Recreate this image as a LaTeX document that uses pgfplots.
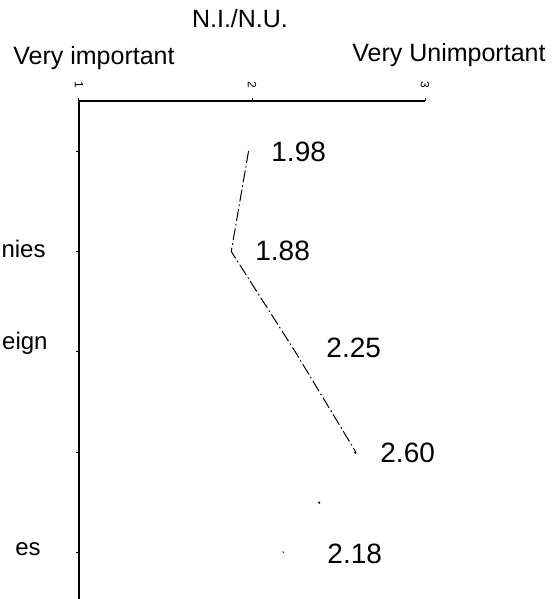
\documentclass[border=0pt]{standalone}
\usepackage{fontspec}
\setmainfont{Liberation Sans}
\usepackage{pgfplots}
\pgfplotsset{compat=1.18}
\begin{document}
\begin{tikzpicture}
\begin{axis}[
  scale only axis, width=173pt, height=249pt,
  xmin=1, xmax=3, ymin=0.535, ymax=5.5,
  clip=false,
  axis x line=top, axis y line=left,
  axis line style={-, line width=0.6pt, black},
  /pgf/number format/assume math mode=true,
  xtick={1,2,3},
  xticklabels={1,2,3},
  xtick align=outside, ytick align=outside,
  major tick length=1.5pt,
  tick style={line width=0.5pt, black},
  xticklabel style={rotate=-90, anchor=east, inner sep=0pt, font=\fontsize{6}{7}\selectfont},
  xticklabel shift=4.5pt,
  ytick={1,2,3,4,5},
  yticklabels={{\raisebox{1.5pt}{es}\hspace*{2.5pt}}, {}, {\raisebox{4pt}{eign}\hspace*{-1pt}}, {nies}, {}},
  yticklabel style={anchor=base east, inner sep=0pt, yshift=-3pt, font=\fontsize{12}{14}\selectfont},
  yticklabel shift=15pt,
]
\coordinate (o) at (rel axis cs:0,0);
% N.I./N.U. mean scores, rows top to bottom
\addplot[black, line width=0.5pt, dash pattern=on 6pt off 1.5pt on 0.8pt off 1.5pt] coordinates {
  (1.98,5) (1.88,4) (2.25,3) (2.60,2)
};
\addplot[black, line width=1pt, dash pattern=on 0.8pt off 30pt] coordinates {
  (2.60,2) (2.18,1)
};
\begin{scope}[every node/.style={anchor=west, inner sep=0pt, font=\fontsize{14}{16}\selectfont}]
\node at (axis cs:2.110,4.992) {1.98};
\node at (axis cs:2.017,4.005) {1.88};
\node at (axis cs:2.428,3.037) {2.25};
\node at (axis cs:2.740,1.990) {2.60};
\node at (axis cs:2.434,0.984) {2.18};
\end{scope}
\end{axis}
\begin{scope}[shift={(o)}, xshift=-39.5pt, yshift=299.5pt, x=0.5pt, y=-0.5pt]
\node[anchor=base, inner sep=0pt, font=\fontsize{12.5}{15}\selectfont] at (240,28) {N.I./N.U.};
\node[anchor=base east, inner sep=0pt, font=\fontsize{12.5}{15}\selectfont] at (175,65) {Very important};
\node[anchor=base west, inner sep=0pt, font=\fontsize{12.5}{15}\selectfont] at (352,62) {Very Unimportant};
\pgfresetboundingbox
\path[use as bounding box] (0,0) rectangle (553,599);
\end{scope}
\end{tikzpicture}
\end{document}
